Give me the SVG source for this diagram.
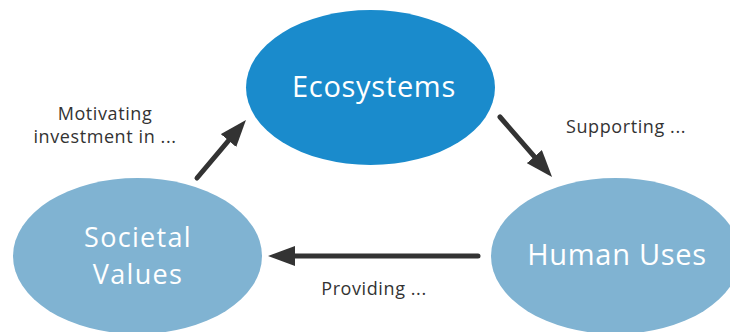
<svg xmlns="http://www.w3.org/2000/svg" width="730" height="332" viewBox="0 0 730 332">
  <style>
    .node-dark { fill: #1a8bcc; }
    .node-light { fill: #80b3d2; }
    .ntext { font-family: "Open Sans", "DejaVu Sans", sans-serif; fill: #ffffff; text-anchor: middle; font-size: 29px; letter-spacing: 0.7px; }
    .ntext2 { font-size: 27px; letter-spacing: 1.3px; }
    .ltext { font-family: "Open Sans", "DejaVu Sans", sans-serif; fill: #333333; text-anchor: middle; font-size: 18px; letter-spacing: 0.6px; }
    .conn { stroke: #333333; stroke-width: 5; stroke-linecap: round; fill: none; marker-end: url(#arrow); }
  </style>
  <defs>
    <marker id="arrow" markerUnits="userSpaceOnUse" markerWidth="27" markerHeight="20" refX="17" refY="10" orient="auto">
      <path d="M0,0 L27,10 L0,20 Z" fill="#333333"/>
    </marker>
  </defs>
  <rect width="730" height="332" fill="#ffffff"/>
  <g id="connectors">
    <line class="conn" x1="197" y1="178" x2="239.5" y2="127.6"/>
    <line class="conn" x1="500" y1="117" x2="545.5" y2="169.4"/>
    <line class="conn" x1="478" y1="256" x2="278" y2="256"/>
    <text class="ltext" x="105" y="120">Motivating</text>
    <text class="ltext" x="105" y="143">investment in ...</text>
    <text class="ltext" x="626" y="133">Supporting ...</text>
    <text class="ltext" x="374" y="295">Providing ...</text>
  </g>
  <g id="ecosystems">
    <ellipse class="node-dark" cx="370.5" cy="87.5" rx="124.5" ry="77.5"/>
    <text class="ntext" x="374" y="97">Ecosystems</text>
  </g>
  <g id="societal-values">
    <ellipse class="node-light" cx="137.5" cy="256" rx="124.5" ry="78"/>
    <text class="ntext ntext2" x="138" y="247">Societal</text>
    <text class="ntext ntext2" x="138" y="284">Values</text>
  </g>
  <g id="human-uses">
    <ellipse class="node-light" cx="615.5" cy="256" rx="124.5" ry="78"/>
    <text class="ntext" x="617" y="265">Human Uses</text>
  </g>
</svg>
